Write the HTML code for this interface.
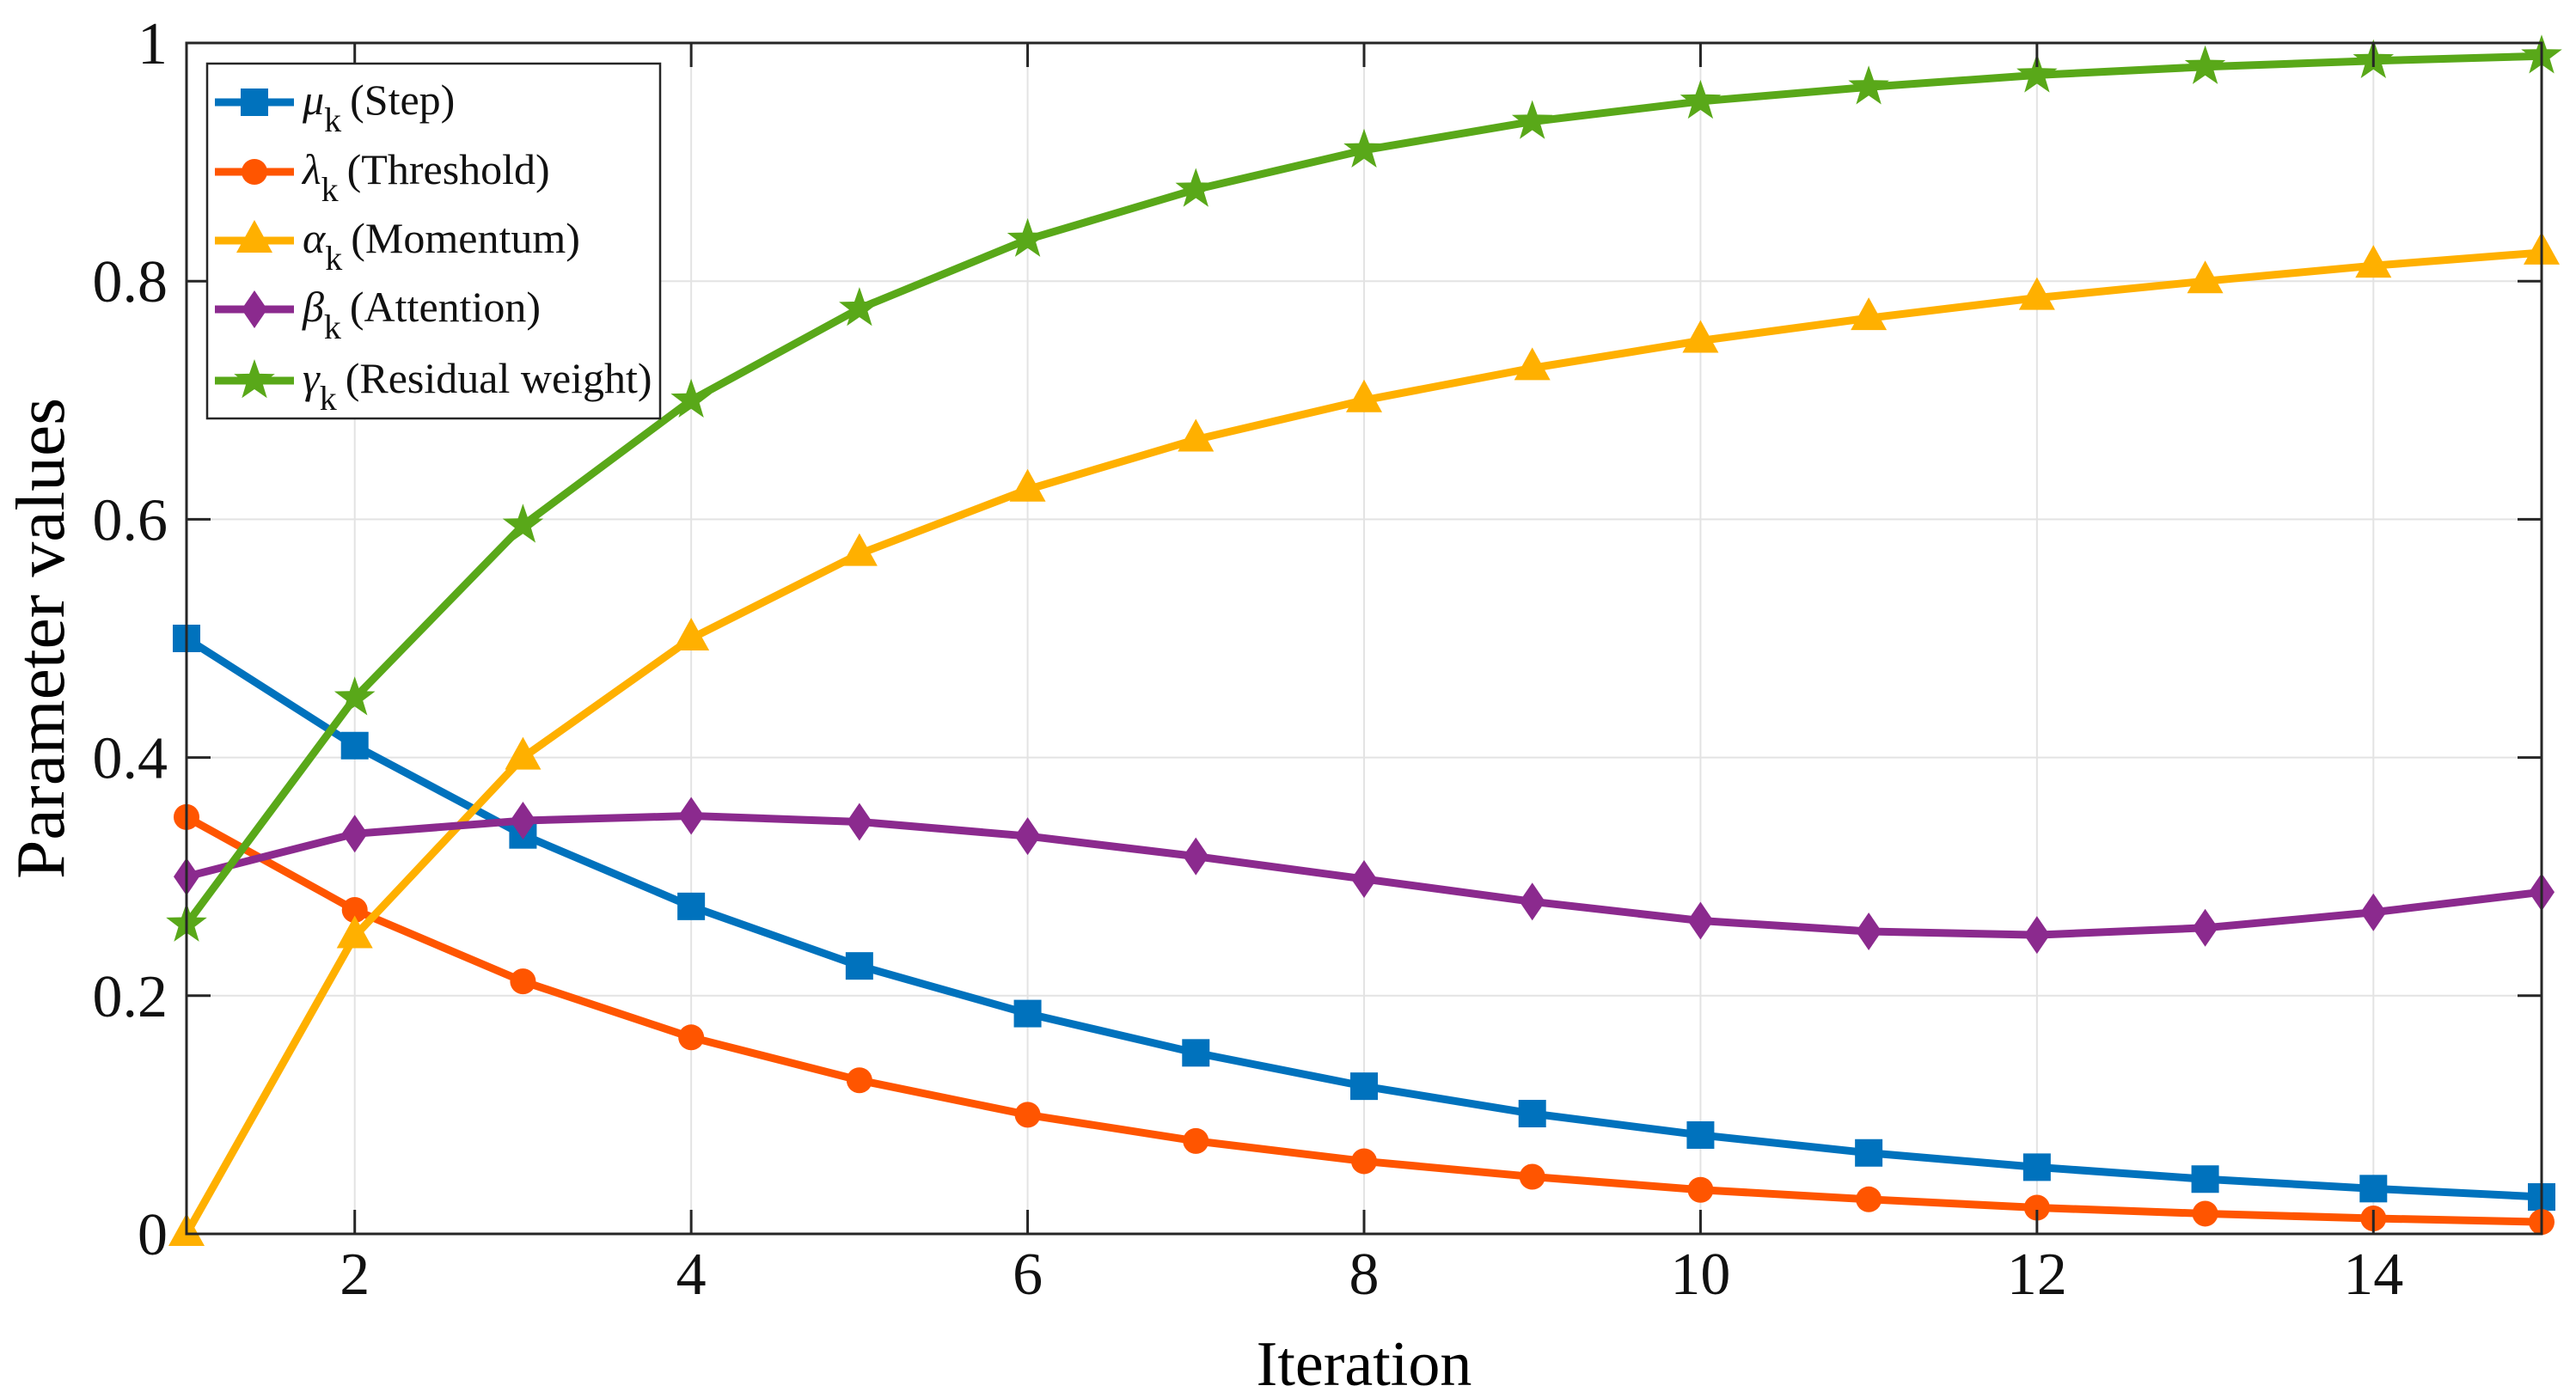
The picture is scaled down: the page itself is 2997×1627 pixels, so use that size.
<!DOCTYPE html>
<html><head><meta charset="utf-8"><style>
html,body{margin:0;padding:0;background:#fff;}
svg{display:block;font-family:"Liberation Serif",serif;}
</style></head><body>
<svg id="chart" width="2997" height="1627" viewBox="0 0 2997 1627">
<g id="grid"></g>
<g id="series"></g>
<g id="axes"></g>
<text x="1587" y="1612" font-size="74" text-anchor="middle">Iteration</text>
<text transform="translate(74,743) rotate(-90)" font-size="80" text-anchor="middle" textLength="560" lengthAdjust="spacingAndGlyphs">Parameter values</text>
<g id="legend"></g>
</svg>
<script>
const iterations=[1,2,3,4,5,6,7,8,9,10,11,12,13,14,15];
const muVals=[0.5,0.41,0.335,0.275,0.225,0.185,0.152,0.124,0.101,0.083,0.068,0.056,0.046,0.038,0.031];
const lambdaVals=[0.35,0.272,0.212,0.165,0.129,0.1,0.078,0.061,0.048,0.037,0.029,0.022,0.017,0.013,0.01];
const alphaVals=[0,0.25,0.4,0.5,0.571,0.625,0.667,0.7,0.727,0.75,0.769,0.786,0.8,0.813,0.824];
const betaVals=[0.3,0.336,0.347,0.351,0.346,0.334,0.317,0.298,0.279,0.263,0.254,0.251,0.257,0.27,0.287];
const gammaVals=[0.26,0.45,0.595,0.7,0.777,0.835,0.877,0.91,0.934,0.951,0.963,0.973,0.98,0.985,0.989];
const xTicks=[2,4,6,8,10,12,14];
const yTicks=[0,0.2,0.4,0.6,0.8,1];
const yTickLabels=["0","0.2","0.4","0.6","0.8","1"];
const seriesNames=["mu","lambda","alpha","beta","gamma"];
const seriesSym=["μ","λ","α","β","γ"];
const seriesLabels=["(Step)","(Threshold)","(Momentum)","(Attention)","(Residual weight)"];

const L=217,R=2957,T=50,B=1436;
const X=v=>L+(v-1)/(15-1)*(R-L);
const Y=v=>B-v*(B-T);
const NS="http://www.w3.org/2000/svg";
function mk(tag,attrs,parent){const e=document.createElementNS(NS,tag);for(const k in attrs)e.setAttribute(k,attrs[k]);parent.appendChild(e);return e;}
const grid=document.getElementById('grid'),axes=document.getElementById('axes'),ser=document.getElementById('series'),leg=document.getElementById('legend');

xTicks.forEach(t=>{
 const g=mk('line',{x1:X(t),x2:X(t),y1:T,y2:B,stroke:'#e3e3e3','stroke-width':2},grid);
 
 
 mk('line',{x1:X(t),x2:X(t),y1:B,y2:B-28,stroke:'#262626','stroke-width':3},axes);
 mk('line',{x1:X(t),x2:X(t),y1:T,y2:T+28,stroke:'#262626','stroke-width':3},axes);
 const tx=mk('text',{x:X(t),y:B+70,'font-size':70,'text-anchor':'middle',fill:'#111'},axes);
 tx.textContent=t;
 
 
});
yTicks.forEach((t,i)=>{
 const g=mk('line',{x1:L,x2:R,y1:Y(t),y2:Y(t),stroke:'#e3e3e3','stroke-width':2},grid);
 
 
 mk('line',{x1:L,x2:L+28,y1:Y(t),y2:Y(t),stroke:'#262626','stroke-width':3},axes);
 mk('line',{x1:R,x2:R-28,y1:Y(t),y2:Y(t),stroke:'#262626','stroke-width':3},axes);
 const tx=mk('text',{x:L-22,y:Y(t)+24,'font-size':70,'text-anchor':'end',fill:'#111'},axes);
 tx.textContent=yTickLabels[i];
 
 
});
const box=mk('rect',{x:L,y:T,width:R-L,height:B-T,fill:'none',stroke:'#262626','stroke-width':3},axes);



const colors=['#0072BD','#FF5500','#FFB000','#8B2A8E','#59A819'];
const data=[muVals,lambdaVals,alphaVals,betaVals,gammaVals];
const markers=['square','circle','triangle','diamond','star'];
function marker(type,cx,cy,col,parent){
 const s=16;
 if(type==='square')return mk('rect',{x:cx-s,y:cy-s,width:2*s,height:2*s,fill:col},parent);
 if(type==='circle')return mk('circle',{cx:cx,cy:cy,r:15,fill:col},parent);
 if(type==='triangle')return mk('polygon',{points:`${cx},${cy-24} ${cx+21},${cy+14} ${cx-21},${cy+14}`,fill:col},parent);
 if(type==='diamond')return mk('polygon',{points:`${cx},${cy-22} ${cx+15},${cy} ${cx},${cy+22} ${cx-15},${cy}`,fill:col},parent);
 let p=[];for(let k=0;k<10;k++){const r=k%2?10:25;const a=-Math.PI/2+k*Math.PI/5;p.push((cx+r*Math.cos(a)).toFixed(1)+','+(cy+r*Math.sin(a)).toFixed(1));}
 return mk('polygon',{points:p.join(' '),fill:col},parent);
}
data.forEach((vals,si)=>{
 const g=mk('g',{},ser);
 
 
 const pts=vals.map((v,i)=>X(iterations[i])+','+Y(v)).join(' ');
 const pl=mk('polyline',{points:pts,fill:'none',stroke:colors[si],'stroke-width':9,'stroke-linejoin':'round'},g);
 
 
 vals.forEach((v,i)=>{
  const m=marker(markers[si],X(iterations[i]),Y(v),colors[si],g);
  
  
 });
});

const lb=mk('rect',{x:241,y:74,width:527,height:413,fill:'#fff',stroke:'#262626','stroke-width':2.5},leg);


const ly=[119,200,280,360,443];
seriesNames.forEach((n,si)=>{
 const g=mk('g',{},leg);
 
 
 mk('line',{x1:250,x2:342,y1:ly[si],y2:ly[si],stroke:colors[si],'stroke-width':9},g);
 marker(markers[si],296,ly[si],colors[si],g);
 const t=mk('text',{x:352,y:ly[si]+14,'font-size':50,fill:'#111'},g);
 const s1=mk('tspan',{'font-style':'italic'},t);s1.textContent=seriesSym[si];
 const s2=mk('tspan',{dy:20,'font-size':40},t);s2.textContent='k';
 const s3=mk('tspan',{dy:-20,dx:10},t);s3.textContent=seriesLabels[si];
});
</script>
</body></html>
